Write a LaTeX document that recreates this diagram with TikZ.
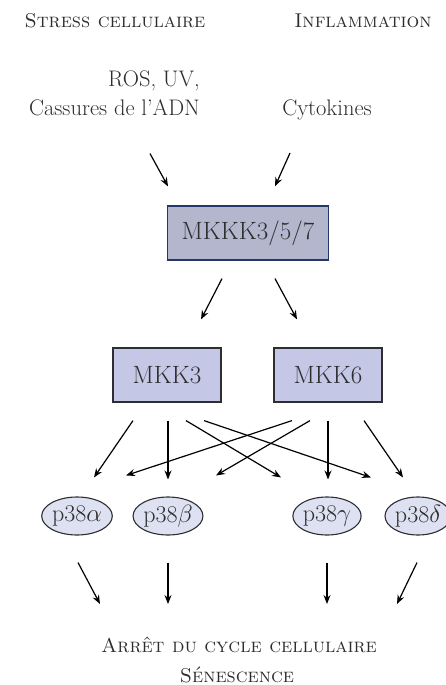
\documentclass[tikz,border=0pt]{standalone}
\usepackage{tikz}
\usepackage{xcolor}
\usetikzlibrary{shapes.geometric, arrows.meta, positioning}
\definecolor{pathText}{RGB}{45, 45, 45}
\definecolor{mkkkFill}{RGB}{180, 182, 205}
\definecolor{mkkkBorder}{RGB}{35, 55, 105}
\definecolor{mkkFill}{RGB}{196, 199, 229}
\definecolor{mkkBorder}{RGB}{45, 45, 50}
\definecolor{p38Fill}{RGB}{221, 225, 241}

\begin{document}
\begin{tikzpicture}[x=1pt, y=-1pt,
    font=\fontsize{22.5}{27}\selectfont, text=pathText,
    kinase/.style={draw=mkkBorder, fill=mkkFill, line width=1.2pt, minimum width=108pt, minimum height=54pt, font=\fontsize{25}{30}\selectfont},
    isoform/.style={ellipse, draw=mkkBorder, fill=p38Fill, line width=1.1pt, minimum width=66pt, minimum height=38pt, inner sep=0pt, font=\fontsize{24}{28}\selectfont},
    label/.style={inner sep=0pt},
    heading/.style={inner sep=0pt, font=\fontsize{20}{24}\selectfont\scshape},
    arr/.style={-{Stealth[length=9pt, width=7pt, inset=3pt]}, line width=1.2pt, black}]
    \useasboundingbox (0,0) rectangle (446,685);

    % stimuli
    \node[heading, anchor=base] (stress) at (115,28) {Stress cellulaire};
    \node[heading, anchor=base] (infl) at (363,28) {Inflammation};
    \node[label, anchor=base east] (ros) at (200,86) {ROS, UV,};
    \node[label, anchor=base east] (dna) at (200,115) {Cassures de l'ADN};
    \node[label, anchor=base] (cyto) at (327,115) {Cytokines};

    % kinase cascade
    \node[kinase, draw=mkkkBorder, fill=mkkkFill, minimum width=161pt] (mkkk) at (248,233) {MKKK3/5/7};
    \node[kinase] (mkk3) at (167,375) {MKK3};
    \node[kinase] (mkk6) at (328,375) {MKK6};

    \node[isoform] (pa) at (77,516) {p38$\alpha$};
    \node[isoform] (pb) at (168,516) {p38$\beta$};
    \node[isoform] (pg) at (327,516) {p38$\gamma$};
    \node[isoform] (pd) at (418,516) {p38$\delta$};

    % outcome
    \node[heading, anchor=base] (arret) at (239,652) {Arrêt du cycle cellulaire};
    \node[heading, anchor=base] (sen) at (237,682) {Sénescence};

    \draw[arr] ([xshift=-50pt, yshift=-38pt]dna.south east) -- ([xshift=-80pt, yshift=19pt]mkkk.north);
    \draw[arr] ([xshift=-37pt, yshift=-38pt]cyto.base) -- ([xshift=27pt, yshift=19pt]mkkk.north);

    \draw[arr] ([xshift=-26pt, yshift=-18pt]mkkk.south) -- ([xshift=34pt, yshift=28pt]mkk3.north);
    \draw[arr] ([xshift=27pt, yshift=-18pt]mkkk.south) -- ([xshift=-31pt, yshift=28pt]mkk6.north);

    \draw[arr] ([xshift=-34pt, yshift=-18pt]mkk3.south) -- ([xshift=17pt, yshift=19pt]pa.north);
    \draw[arr] ([xshift=1pt, yshift=-18pt]mkk3.south) -- ([yshift=17pt]pb.north);
    \draw[arr] ([xshift=19pt, yshift=-18pt]mkk3.south) -- ([xshift=-46pt, yshift=19pt]pg.north);
    \draw[arr] ([xshift=37pt, yshift=-18pt]mkk3.south) -- ([xshift=-47pt, yshift=19pt]pd.north);
    \draw[arr] ([xshift=-36pt, yshift=-18pt]mkk6.south) -- ([xshift=49pt, yshift=21pt]pa.north);
    \draw[arr] ([xshift=-18pt, yshift=-18pt]mkk6.south) -- ([xshift=48pt, yshift=21pt]pb.north);
    \draw[arr] ([yshift=-18pt]mkk6.south) -- ([xshift=1pt, yshift=17pt]pg.north);
    \draw[arr] ([xshift=36pt, yshift=-18pt]mkk6.south) -- ([xshift=-15pt, yshift=19pt]pd.north);

    \draw[arr] ([xshift=1pt, yshift=-27pt]pa.south) -- ([xshift=-139pt, yshift=48pt]arret.base);
    \draw[arr] ([yshift=-27pt]pb.south) -- ([xshift=-71pt, yshift=48pt]arret.base);
    \draw[arr] ([yshift=-27pt]pg.south) -- ([xshift=88pt, yshift=48pt]arret.base);
    \draw[arr] ([xshift=-1pt, yshift=-27pt]pd.south) -- ([xshift=158pt, yshift=48pt]arret.base);
\end{tikzpicture}
\end{document}
